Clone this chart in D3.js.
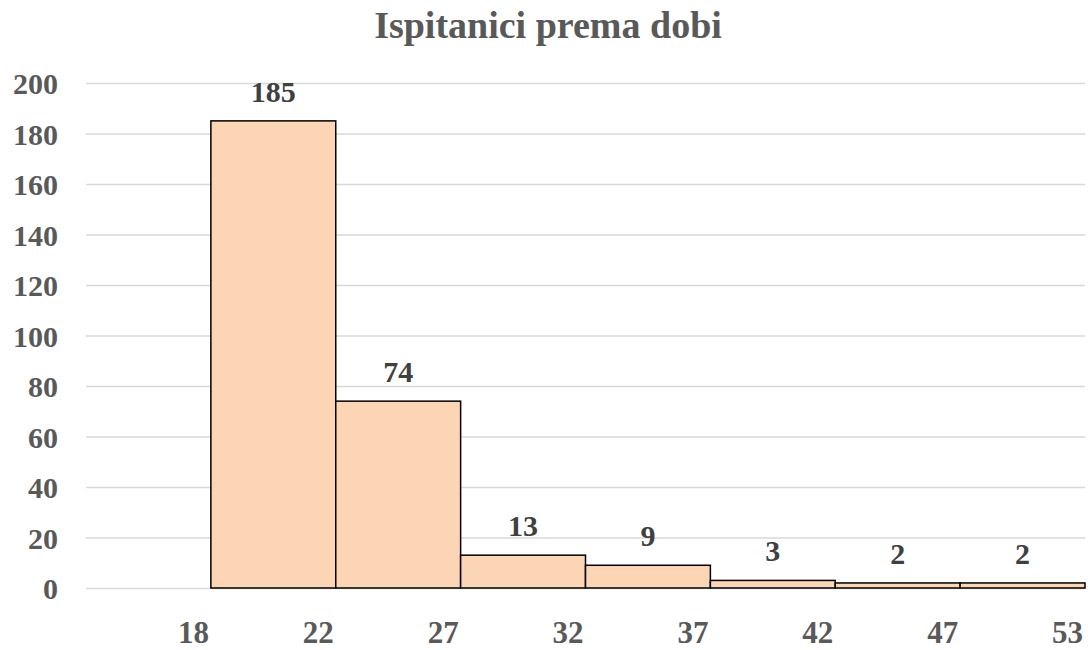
<!DOCTYPE html>
<html>
<head>
<meta charset="utf-8">
<script src="https://cdn.jsdelivr.net/npm/d3@7"></script>
<style>
  body { margin: 0; background: #fff; }
  text { font-family: "Liberation Serif", "Times New Roman", serif; font-weight: bold; }
</style>
</head>
<body>
<script>
const ageLabels = ["18", "22", "27", "32", "37", "42", "47", "53"];
const counts = [null, 185, 74, 13, 9, 3, 2, 2];
const yTicks = [0, 20, 40, 60, 80, 100, 120, 140, 160, 180, 200];

const w = 1088, h = 650,
      plotL = 86, plotR = 1085,
      plotT = 83, plotB = 588;

const svg = d3.select("body").append("svg")
  .attr("width", w)
  .attr("height", h);

const x = d3.scaleBand()
  .domain(ageLabels)
  .range([plotL, plotR])
  .padding(0);

const y = d3.scaleLinear()
  .domain([0, 200])
  .range([plotB, plotT]);

// title
svg.append("text")
  .attr("x", 548)
  .attr("y", 38)
  .attr("text-anchor", "middle")
  .style("font-size", "38px")
  .style("fill", "#595959")
  .text("Ispitanici prema dobi");

// grid
const yAxis = d3.axisLeft(y)
  .tickValues(yTicks)
  .tickSize(-(plotR - plotL))
  .tickPadding(28);

const gy = svg.append("g")
  .attr("transform", "translate(" + plotL + ",0)")
  .call(yAxis);
gy.select(".domain").remove();
gy.selectAll("line").attr("stroke", "#d9d9d9").attr("stroke-width", 1.5);
gy.selectAll("text")
  .style("font-size", "30px")
  .style("fill", "#595959")
  .attr("font-family", null)
  .attr("dy", "0.35em");

// bars
const data = ageLabels.map((a, i) => ({ age: a, count: counts[i] }))
  .filter(d => d.count !== null);

svg.append("g").selectAll("rect")
  .data(data)
  .enter()
  .append("rect")
  .attr("x", d => x(d.age))
  .attr("y", d => y(d.count))
  .attr("width", x.bandwidth())
  .attr("height", d => y(0) - y(d.count))
  .style("fill", "#fcd5b5")
  .style("stroke", "#000")
  .style("stroke-width", 1.5);

// data labels
svg.append("g").selectAll("text")
  .data(data)
  .enter()
  .append("text")
  .attr("x", d => x(d.age) + x.bandwidth() / 2)
  .attr("y", d => y(d.count) - 19)
  .attr("text-anchor", "middle")
  .style("font-size", "30px")
  .style("fill", "#404040")
  .text(d => d.count);

// x labels
const xAxis = d3.axisBottom(x).tickSize(0);
const gx = svg.append("g")
  .attr("transform", "translate(0," + plotB + ")")
  .call(xAxis);
gx.select(".domain").remove();
gx.selectAll("text")
  .attr("font-family", null)
  .attr("text-anchor", "end")
  .attr("x", x.bandwidth() / 2 - 2)
  .attr("y", 55)
  .attr("dy", null)
  .style("font-size", "31px")
  .style("fill", "#595959");
</script>
</body>
</html>
